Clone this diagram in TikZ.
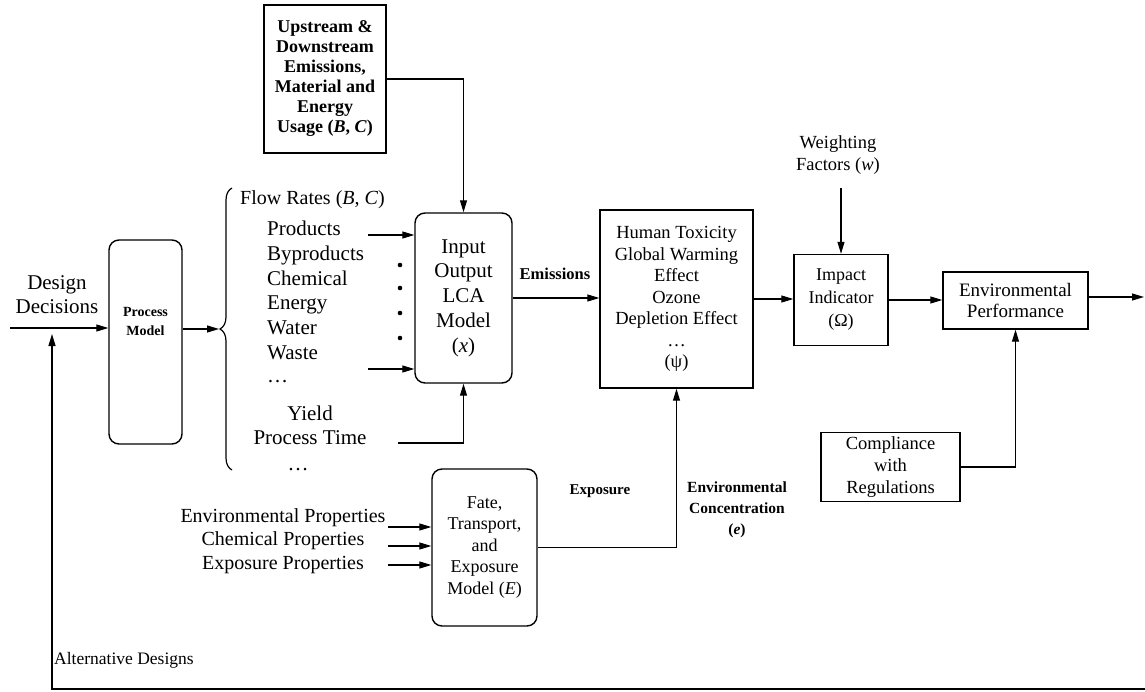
\documentclass[tikz,border=0pt]{standalone}
\usepackage{fontspec}
\setmainfont{Liberation Serif}
\usetikzlibrary{arrows.meta,decorations.pathreplacing}

\tikzset{
  box/.style={draw, line width=1.4pt, inner sep=0pt, align=center},
  rbox/.style={box, rounded corners=10pt},
  ln/.style={line width=1.1pt},
  arr/.style={ln, -{Triangle[length=12pt,width=7pt]}},
  lbl/.style={inner sep=0pt, text height=0.7em, text depth=0.22em},
  multi/.style={inner sep=0pt, align=center},
}
\newcommand{\fsz}[2]{\fontsize{#1}{#2}\selectfont}

\begin{document}
\begin{tikzpicture}[x=1pt,y=-1pt]
\useasboundingbox (0,0) rectangle (1145,692);

% ---- boxes ----
\node[rbox, minimum width=73, minimum height=204] (pm) at (145.5,342) {};
\node[multi, font=\fsz{14}{19}\bfseries] (pmtxt) at (145.5,321) {Process\\Model};

\node[box, minimum width=122, minimum height=148, font=\fsz{18}{20}\bfseries] (up) at (325,79)
  {Upstream \&\\Downstream\\Emissions,\\Material and\\Energy\\Usage (\textit{B}, \textit{C})};

\node[rbox, minimum width=97, minimum height=170, font=\fsz{21}{24.8}] (lca) at (463.5,298)
  {Input\\Output\\LCA\\Model\\(\textit{x})};

\node[box, minimum width=153, minimum height=178, font=\fsz{18.5}{21.5}] (hum) at (676.5,299)
  {Human Toxicity\\Global Warming\\Effect\\Ozone\\Depletion Effect\\\ldots\\(ψ)};

\node[box, minimum width=94, minimum height=91, font=\fsz{18}{23}] (imp) at (841,300)
  {Impact\\Indicator\\(Ω)};

\node[box, minimum width=145, minimum height=57, font=\fsz{19}{21.5}] (env) at (1015.5,300.5)
  {Environmental\\Performance};

\node[box, minimum width=139, minimum height=69, font=\fsz{18.5}{22}] (comp) at (890.5,467)
  {Compliance\\with\\Regulations};

\node[rbox, minimum width=105, minimum height=157, font=\fsz{18}{21.5}] (fate) at (484.5,547.5)
  {Fate,\\Transport,\\and\\Exposure\\Model (\textit{E})};

% ---- free texts ----
\node[multi, font=\fsz{21}{24}] (dd) at (57,295) {Design\\Decisions};
\node[multi, font=\fsz{18.5}{22}] (wf) at (838,155) {Weighting\\Factors (\textit{w})};
\node[lbl, anchor=west, font=\fsz{20}{24}] (flow) at (240,202) {Flow Rates (\textit{B}, \textit{C})};

\begin{scope}[every node/.style={lbl, anchor=west, font=\fsz{21}{25}}]
  \node (prod) at (267,233) {Products};
  \node (byp)  at (267,258) {Byproducts};
  \node (chem) at (267,283) {Chemical};
  \node (ener) at (267,307.5) {Energy};
  \node (wat)  at (267,332) {Water};
  \node (wst)  at (267,357) {Waste};
  \node (dots1) at (267,380) {\ldots};
\end{scope}
\node[lbl, font=\fsz{21}{25}] (yld) at (310,418) {Yield};
\node[lbl, font=\fsz{21}{25}] (ptm) at (310,442) {Process Time};
\node[lbl, font=\fsz{21}{25}] (dots2) at (298,468) {\ldots};

\node[lbl, font=\fsz{20}{23}] (eprop) at (283,520) {Environmental Properties};
\node[lbl, font=\fsz{20}{23}] (cprop) at (283,543) {Chemical Properties};
\node[lbl, font=\fsz{20}{23}] (xprop) at (283,567) {Exposure Properties};

\node[lbl, font=\fsz{16.5}{20}\bfseries] (emis) at (555,277) {Emissions};
\node[lbl, font=\fsz{15}{20}\bfseries] (expo) at (600,492) {Exposure};
\node[multi, font=\fsz{15.5}{21}\bfseries] (conc) at (737,510) {Environmental\\Concentration\\(\textit{e})};
\node[lbl, anchor=west, font=\fsz{17.5}{21}] (alt) at (54,662) {Alternative Designs};

% ---- brace and dots ----
\draw[line width=1.2pt, decorate, decoration={brace, amplitude=12pt, aspect=0.5}]
  (232,470) -- (232,188);
\coordinate (btip) at (219,329);
\foreach \yy in {265,288,313,338} \fill (400,\yy) circle (2.3);

% ---- connectors ----
\coordinate (ddin) at (10,328);
\draw[arr] (ddin) -- (ddin -| pm.west);
\draw[arr] (btip -| pm.east) -- (btip);

\coordinate (prodS) at (368,235);
\coordinate (wstS) at (368,369);
\coordinate (ptS) at (398,443);
\draw[arr] (prodS) -- (prodS -| lca.west);
\draw[arr] (wstS) -- (wstS -| lca.west);
\draw[arr] (ptS) -| (lca.south);
\draw[arr] (up.east) -| (lca.north);

\draw[arr] (lca.east) -- (lca.east -| hum.west);
\draw[arr] (hum.east) -- (hum.east -| imp.west);
\draw[arr] (imp.east) -- (imp.east -| env.west);
\coordinate (outend) at (1144,297);
\draw[arr] (env.east |- outend) -- (outend);

\coordinate (wfS) at (841,188);
\draw[arr] (wfS) -- (imp.north);
\draw[arr] (comp.east) -| (env.south);

\coordinate (epS) at (388,527);
\coordinate (cpS) at (388,546);
\coordinate (xpS) at (388,565);
\draw[arr] (epS) -- (epS -| fate.west);
\draw[arr] (cpS) -- (cpS -| fate.west);
\draw[arr] (xpS) -- (xpS -| fate.west);
\draw[arr] (fate.east) -| (hum.south);

\coordinate (fbR) at (1145,689);
\coordinate (fbTip) at (52,334);
\draw[arr] (fbR) -- (fbR -| fbTip) -- (fbTip);
\end{tikzpicture}
\end{document}
